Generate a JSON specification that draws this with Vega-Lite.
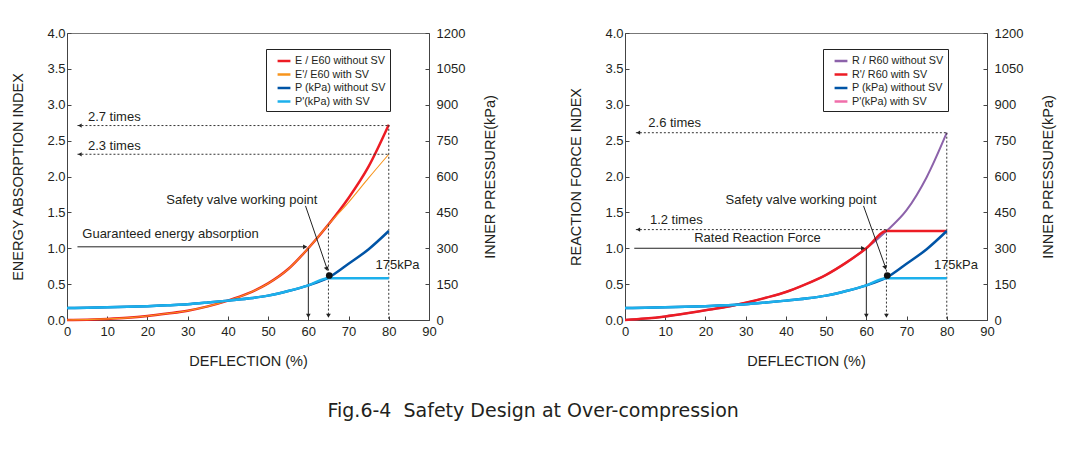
{
  "$schema": "https://vega.github.io/schema/vega-lite/v6.json",
  "background": "white",
  "padding": {"left": 10, "top": 26, "right": 10, "bottom": 10},
  "config": {
    "font": "Liberation Sans",
    "view": {"stroke": "#777", "strokeWidth": 1},
    "axis": {"grid": false, "labelFontSize": 13, "titleFontSize": 14.5, "titleFontWeight": "normal", "labelColor": "#231f20", "titleColor": "#231f20", "domainColor": "#444", "tickColor": "#444", "tickSize": -4, "labelPadding": 6, "labelOverlap": false, "labelFlush": false, "labelBound": false},
    "text": {"font": "Liberation Sans", "fontSize": 13, "color": "#231f20"}
  },
  "title": {"text": "Fig.6-4\u00a0 Safety Design at Over-compression", "orient": "bottom", "font": "DejaVu Sans", "fontSize": 19, "fontWeight": "normal", "color": "#231f20", "offset": 34, "anchor": "middle"},
  "spacing": 70,
  "resolve": {"scale": {"color": "independent"}, "legend": {"color": "independent"}},
  "datasets": {
    "eL": [
      {"x": 0, "v": 0, "s": "E / E60 without SV"}, {"x": 5, "v": 0.005, "s": "E / E60 without SV"}, {"x": 10, "v": 0.015, "s": "E / E60 without SV"}, {"x": 15, "v": 0.03, "s": "E / E60 without SV"}, {"x": 20, "v": 0.055, "s": "E / E60 without SV"}, {"x": 25, "v": 0.09, "s": "E / E60 without SV"}, {"x": 30, "v": 0.13, "s": "E / E60 without SV"}, {"x": 35, "v": 0.19, "s": "E / E60 without SV"}, {"x": 40, "v": 0.27, "s": "E / E60 without SV"}, {"x": 45, "v": 0.37, "s": "E / E60 without SV"}, {"x": 50, "v": 0.51, "s": "E / E60 without SV"}, {"x": 55, "v": 0.71, "s": "E / E60 without SV"}, {"x": 60, "v": 1.0, "s": "E / E60 without SV"}, {"x": 65, "v": 1.33, "s": "E / E60 without SV"}, {"x": 70, "v": 1.7, "s": "E / E60 without SV"}, {"x": 75, "v": 2.14, "s": "E / E60 without SV"}, {"x": 80, "v": 2.72, "s": "E / E60 without SV"},
      {"x": 0, "v": 0, "s": "E'/ E60 with SV"}, {"x": 5, "v": 0.005, "s": "E'/ E60 with SV"}, {"x": 10, "v": 0.015, "s": "E'/ E60 with SV"}, {"x": 15, "v": 0.03, "s": "E'/ E60 with SV"}, {"x": 20, "v": 0.055, "s": "E'/ E60 with SV"}, {"x": 25, "v": 0.09, "s": "E'/ E60 with SV"}, {"x": 30, "v": 0.13, "s": "E'/ E60 with SV"}, {"x": 35, "v": 0.19, "s": "E'/ E60 with SV"}, {"x": 40, "v": 0.27, "s": "E'/ E60 with SV"}, {"x": 45, "v": 0.37, "s": "E'/ E60 with SV"}, {"x": 50, "v": 0.51, "s": "E'/ E60 with SV"}, {"x": 55, "v": 0.71, "s": "E'/ E60 with SV"}, {"x": 60, "v": 1.0, "s": "E'/ E60 with SV"}, {"x": 65, "v": 1.33, "s": "E'/ E60 with SV"}, {"x": 70, "v": 1.64, "s": "E'/ E60 with SV"}, {"x": 75, "v": 1.98, "s": "E'/ E60 with SV"}, {"x": 80, "v": 2.31, "s": "E'/ E60 with SV"}
    ],
    "rR": [
      {"x": 0, "v": 0, "s": "R / R60 without SV"}, {"x": 5, "v": 0.02, "s": "R / R60 without SV"}, {"x": 10, "v": 0.05, "s": "R / R60 without SV"}, {"x": 15, "v": 0.09, "s": "R / R60 without SV"}, {"x": 20, "v": 0.135, "s": "R / R60 without SV"}, {"x": 25, "v": 0.18, "s": "R / R60 without SV"}, {"x": 30, "v": 0.24, "s": "R / R60 without SV"}, {"x": 35, "v": 0.31, "s": "R / R60 without SV"}, {"x": 40, "v": 0.39, "s": "R / R60 without SV"}, {"x": 45, "v": 0.5, "s": "R / R60 without SV"}, {"x": 50, "v": 0.63, "s": "R / R60 without SV"}, {"x": 55, "v": 0.8, "s": "R / R60 without SV"}, {"x": 60, "v": 1.0, "s": "R / R60 without SV"}, {"x": 65, "v": 1.24, "s": "R / R60 without SV"}, {"x": 70, "v": 1.53, "s": "R / R60 without SV"}, {"x": 75, "v": 1.99, "s": "R / R60 without SV"}, {"x": 80, "v": 2.61, "s": "R / R60 without SV"},
      {"x": 0, "v": 0, "s": "R'/ R60 with SV"}, {"x": 5, "v": 0.02, "s": "R'/ R60 with SV"}, {"x": 10, "v": 0.05, "s": "R'/ R60 with SV"}, {"x": 15, "v": 0.09, "s": "R'/ R60 with SV"}, {"x": 20, "v": 0.135, "s": "R'/ R60 with SV"}, {"x": 25, "v": 0.18, "s": "R'/ R60 with SV"}, {"x": 30, "v": 0.24, "s": "R'/ R60 with SV"}, {"x": 35, "v": 0.31, "s": "R'/ R60 with SV"}, {"x": 40, "v": 0.39, "s": "R'/ R60 with SV"}, {"x": 45, "v": 0.5, "s": "R'/ R60 with SV"}, {"x": 50, "v": 0.63, "s": "R'/ R60 with SV"}, {"x": 55, "v": 0.8, "s": "R'/ R60 with SV"}, {"x": 60, "v": 1.0, "s": "R'/ R60 with SV"}, {"x": 65, "v": 1.24, "s": "R'/ R60 with SV"}, {"x": 80, "v": 1.24, "s": "R'/ R60 with SV"}
    ],
    "pres": [
      {"x": 0, "p": 50, "s": "P (kPa) without SV"}, {"x": 5, "p": 51, "s": "P (kPa) without SV"}, {"x": 10, "p": 53, "s": "P (kPa) without SV"}, {"x": 15, "p": 55, "s": "P (kPa) without SV"}, {"x": 20, "p": 58, "s": "P (kPa) without SV"}, {"x": 25, "p": 62, "s": "P (kPa) without SV"}, {"x": 30, "p": 66, "s": "P (kPa) without SV"}, {"x": 35, "p": 73, "s": "P (kPa) without SV"}, {"x": 40, "p": 81, "s": "P (kPa) without SV"}, {"x": 45, "p": 90, "s": "P (kPa) without SV"}, {"x": 50, "p": 102, "s": "P (kPa) without SV"}, {"x": 55, "p": 121, "s": "P (kPa) without SV"}, {"x": 60, "p": 145, "s": "P (kPa) without SV"}, {"x": 65, "p": 177, "s": "P (kPa) without SV"}, {"x": 70, "p": 235, "s": "P (kPa) without SV"}, {"x": 75, "p": 296, "s": "P (kPa) without SV"}, {"x": 80, "p": 372, "s": "P (kPa) without SV"},
      {"x": 0, "p": 50, "s": "P'(kPa) with SV"}, {"x": 5, "p": 51, "s": "P'(kPa) with SV"}, {"x": 10, "p": 53, "s": "P'(kPa) with SV"}, {"x": 15, "p": 55, "s": "P'(kPa) with SV"}, {"x": 20, "p": 58, "s": "P'(kPa) with SV"}, {"x": 25, "p": 62, "s": "P'(kPa) with SV"}, {"x": 30, "p": 66, "s": "P'(kPa) with SV"}, {"x": 35, "p": 73, "s": "P'(kPa) with SV"}, {"x": 40, "p": 81, "s": "P'(kPa) with SV"}, {"x": 45, "p": 90, "s": "P'(kPa) with SV"}, {"x": 50, "p": 102, "s": "P'(kPa) with SV"}, {"x": 55, "p": 121, "s": "P'(kPa) with SV"}, {"x": 60, "p": 145, "s": "P'(kPa) with SV"}, {"x": 65, "p": 175, "s": "P'(kPa) with SV"}, {"x": 80, "p": 175, "s": "P'(kPa) with SV"}
    ],
    "dotL": [{"x": 65.2, "p": 186}],
    "dottedL": [{"x": 2.6, "v": 2.71, "x2": 80, "v2": 2.71}, {"x": 2.6, "v": 2.31, "x2": 80, "v2": 2.31}, {"x": 80, "v": 2.72, "x2": 80, "v2": 0}, {"x": 65, "v": 1.33, "x2": 65, "v2": 0.05}],
    "solidL": [{"x": 2.6, "v": 1.02, "x2": 59.5, "v2": 1.02}, {"x": 60, "v": 1.0, "x2": 60, "v2": 0.05}, {"x": 59.3, "v": 1.59, "x2": 64.5, "v2": 0.74}],
    "arrowLeftL": [{"x": 3.2, "v": 2.71}, {"x": 3.2, "v": 2.31}],
    "arrowRightL": [{"x": 59.2, "v": 1.02}],
    "arrowDownL": [{"x": 60, "v": 0.06}, {"x": 65, "v": 0.06}],
    "arrowDiagL": [{"x": 64.6, "v": 0.71}],
    "textL": [{"x": 5.2, "v": 2.83, "t": "2.7 times"}, {"x": 5.2, "v": 2.43, "t": "2.3 times"}, {"x": 24.7, "v": 1.67, "t": "Safety valve working point"}, {"x": 3.8, "v": 1.2, "t": "Guaranteed energy absorption"}, {"x": 76.7, "v": 0.76, "t": "175kPa"}],
    "dotR": [{"x": 65.2, "p": 186}],
    "dottedR": [{"x": 2.7, "v": 2.61, "x2": 80, "v2": 2.61}, {"x": 2.7, "v": 1.26, "x2": 65, "v2": 1.26}, {"x": 80, "v": 2.61, "x2": 80, "v2": 0}, {"x": 65, "v": 1.26, "x2": 65, "v2": 0.05}],
    "solidR": [{"x": 2.3, "v": 1.0, "x2": 59.5, "v2": 1.0}, {"x": 60, "v": 1.0, "x2": 60, "v2": 0.05}, {"x": 59.3, "v": 1.59, "x2": 64.6, "v2": 0.76}],
    "arrowLeftR": [{"x": 3.3, "v": 2.61}, {"x": 3.3, "v": 1.26}],
    "arrowRightR": [{"x": 59.2, "v": 1.0}],
    "arrowDownR": [{"x": 60, "v": 0.06}, {"x": 65, "v": 0.06}],
    "arrowDiagR": [{"x": 64.7, "v": 0.73}],
    "textR": [{"x": 5.8, "v": 2.74, "t": "2.6 times"}, {"x": 6.2, "v": 1.39, "t": "1.2 times"}, {"x": 25, "v": 1.67, "t": "Safety valve working point"}, {"x": 17.2, "v": 1.14, "t": "Rated Reaction Force"}, {"x": 76.8, "v": 0.76, "t": "175kPa"}]
  },
  "hconcat": [
    {
      "width": 362, "height": 287,
      "resolve": {"scale": {"y": "independent"}},
      "layer": [
        {
          "encoding": {
            "x": {"field": "x", "type": "quantitative", "scale": {"domain": [0, 90]}, "axis": {"values": [0,10,20,30,40,50,60,70,80,90], "labelOverlap": false, "title": "DEFLECTION (%)", "titlePadding": 16, "labelPadding": 9}},
            "y": {"field": "v", "type": "quantitative", "scale": {"domain": [0, 4]}, "axis": {"values": [0,0.5,1,1.5,2,2.5,3,3.5,4], "labelOverlap": false, "format": ".1f", "title": "ENERGY ABSORPTION INDEX", "titlePadding": 21}}
          },
          "layer": [
            {"data": {"name": "eL"}, "transform": [{"filter": "datum.s === 'E / E60 without SV'"}],
             "mark": {"type": "line", "interpolate": "monotone", "strokeWidth": 2.5},
             "encoding": {
               "color": {"field": "s", "type": "nominal", "scale": {"domain": ["E / E60 without SV", "E'/ E60 with SV", "P (kPa) without SV", "P'(kPa) with SV"], "range": ["#ed1c24", "#f7941d", "#0054a6", "#1cb0ec"]},
                 "legend": {"orient": "none", "legendX": 199, "legendY": 16, "title": null, "symbolType": "stroke", "symbolStrokeWidth": 2.5, "symbolSize": 165, "symbolOffset": 6, "strokeColor": "#222", "fillColor": "white", "padding": 4, "labelFontSize": 10.8, "labelColor": "#231f20", "rowPadding": 0.5, "labelOffset": 3, "cornerRadius": 0}}
             }},
            {"data": {"name": "eL"}, "transform": [{"filter": "datum.s === 'E\\'/ E60 with SV'"}],
             "mark": {"type": "line", "interpolate": "monotone", "strokeWidth": 1.1},
             "encoding": {"color": {"field": "s", "type": "nominal"}}},
            {"data": {"name": "dottedL"}, "mark": {"type": "rule", "strokeDash": [2, 2], "color": "#333", "strokeWidth": 1},
             "encoding": {"x2": {"field": "x2"}, "y2": {"field": "v2"}}},
            {"data": {"name": "solidL"}, "mark": {"type": "rule", "color": "#222", "strokeWidth": 1},
             "encoding": {"x2": {"field": "x2"}, "y2": {"field": "v2"}}},
            {"data": {"name": "arrowLeftL"}, "mark": {"type": "point", "shape": "triangle-left", "filled": true, "color": "#222", "size": 18, "opacity": 1}, "encoding": {}},
            {"data": {"name": "arrowRightL"}, "mark": {"type": "point", "shape": "triangle-right", "filled": true, "color": "#222", "size": 22, "opacity": 1}, "encoding": {}},
            {"data": {"name": "arrowDownL"}, "mark": {"type": "point", "shape": "triangle-down", "filled": true, "color": "#222", "size": 22, "opacity": 1}, "encoding": {}},
            {"data": {"name": "arrowDiagL"}, "mark": {"type": "point", "shape": "triangle-up", "angle": 162, "filled": true, "color": "#222", "size": 24, "opacity": 1}, "encoding": {}},
            {"data": {"name": "textL"}, "mark": {"type": "text", "align": "left", "baseline": "middle", "fontSize": 13},
             "encoding": {"text": {"field": "t"}}}
          ]
        },
        {
          "encoding": {
            "x": {"field": "x", "type": "quantitative", "scale": {"domain": [0, 90]}, "axis": {"values": [0,10,20,30,40,50,60,70,80,90], "labelOverlap": false, "title": "DEFLECTION (%)", "titlePadding": 16, "labelPadding": 9}},
            "y": {"field": "p", "type": "quantitative", "scale": {"domain": [0, 1200]}, "axis": {"orient": "right", "values": [0,150,300,450,600,750,900,1050,1200], "labelOverlap": false, "format": "d", "title": "INNER PRESSURE(kPa)", "titleAngle": 270, "titleBaseline": "top", "titlePadding": 19, "labelPadding": 11}}
          },
          "layer": [
            {"data": {"name": "pres"}, "transform": [{"filter": "datum.s === 'P (kPa) without SV'"}],
             "mark": {"type": "line", "interpolate": "monotone", "strokeWidth": 2.5},
             "encoding": {"color": {"field": "s", "type": "nominal"}}},
            {"data": {"name": "pres"}, "transform": [{"filter": "datum.s === 'P\\'(kPa) with SV'"}],
             "mark": {"type": "line", "interpolate": "monotone", "strokeWidth": 2.5},
             "encoding": {"color": {"field": "s", "type": "nominal"}}},
            {"data": {"name": "dotL"}, "mark": {"type": "point", "filled": true, "color": "#111", "size": 45, "opacity": 1}, "encoding": {}}
          ]
        }
      ]
    },
    {
      "width": 362, "height": 287,
      "resolve": {"scale": {"y": "independent"}},
      "layer": [
        {
          "encoding": {
            "x": {"field": "x", "type": "quantitative", "scale": {"domain": [0, 90]}, "axis": {"values": [0,10,20,30,40,50,60,70,80,90], "labelOverlap": false, "title": "DEFLECTION (%)", "titlePadding": 16, "labelPadding": 9}},
            "y": {"field": "v", "type": "quantitative", "scale": {"domain": [0, 4]}, "axis": {"values": [0,0.5,1,1.5,2,2.5,3,3.5,4], "labelOverlap": false, "format": ".1f", "title": "REACTION FORCE INDEX", "titlePadding": 21}}
          },
          "layer": [
            {"data": {"name": "rR"}, "transform": [{"filter": "datum.s === 'R / R60 without SV'"}],
             "mark": {"type": "line", "interpolate": "monotone", "strokeWidth": 2},
             "encoding": {
               "color": {"field": "s", "type": "nominal", "scale": {"domain": ["R / R60 without SV", "R'/ R60 with SV", "P (kPa) without SV", "P'(kPa) with SV"], "range": ["#8c62aa", "#ed1c24", "#0054a6", "#f06eaa"]},
                 "legend": {"orient": "none", "legendX": 198, "legendY": 16, "title": null, "symbolType": "stroke", "symbolStrokeWidth": 2.5, "symbolSize": 165, "symbolOffset": 6, "strokeColor": "#222", "fillColor": "white", "padding": 4, "labelFontSize": 10.8, "labelColor": "#231f20", "rowPadding": 0.5, "labelOffset": 3, "cornerRadius": 0}}
             }},
            {"data": {"name": "rR"}, "transform": [{"filter": "datum.s === 'R\\'/ R60 with SV'"}],
             "mark": {"type": "line", "interpolate": "monotone", "strokeWidth": 2.5},
             "encoding": {"color": {"field": "s", "type": "nominal"}}},
            {"data": {"name": "dottedR"}, "mark": {"type": "rule", "strokeDash": [2, 2], "color": "#333", "strokeWidth": 1},
             "encoding": {"x2": {"field": "x2"}, "y2": {"field": "v2"}}},
            {"data": {"name": "solidR"}, "mark": {"type": "rule", "color": "#222", "strokeWidth": 1},
             "encoding": {"x2": {"field": "x2"}, "y2": {"field": "v2"}}},
            {"data": {"name": "arrowLeftR"}, "mark": {"type": "point", "shape": "triangle-left", "filled": true, "color": "#222", "size": 18, "opacity": 1}, "encoding": {}},
            {"data": {"name": "arrowRightR"}, "mark": {"type": "point", "shape": "triangle-right", "filled": true, "color": "#222", "size": 22, "opacity": 1}, "encoding": {}},
            {"data": {"name": "arrowDownR"}, "mark": {"type": "point", "shape": "triangle-down", "filled": true, "color": "#222", "size": 22, "opacity": 1}, "encoding": {}},
            {"data": {"name": "arrowDiagR"}, "mark": {"type": "point", "shape": "triangle-up", "angle": 162, "filled": true, "color": "#222", "size": 24, "opacity": 1}, "encoding": {}},
            {"data": {"name": "textR"}, "mark": {"type": "text", "align": "left", "baseline": "middle", "fontSize": 13},
             "encoding": {"text": {"field": "t"}}}
          ]
        },
        {
          "encoding": {
            "x": {"field": "x", "type": "quantitative", "scale": {"domain": [0, 90]}, "axis": {"values": [0,10,20,30,40,50,60,70,80,90], "labelOverlap": false, "title": "DEFLECTION (%)", "titlePadding": 16, "labelPadding": 9}},
            "y": {"field": "p", "type": "quantitative", "scale": {"domain": [0, 1200]}, "axis": {"orient": "right", "values": [0,150,300,450,600,750,900,1050,1200], "labelOverlap": false, "format": "d", "title": "INNER PRESSURE(kPa)", "titleAngle": 270, "titleBaseline": "top", "titlePadding": 19, "labelPadding": 11}}
          },
          "layer": [
            {"data": {"name": "pres"}, "transform": [{"filter": "datum.s === 'P (kPa) without SV'"}],
             "mark": {"type": "line", "interpolate": "monotone", "strokeWidth": 2.5},
             "encoding": {"color": {"field": "s", "type": "nominal"}}},
            {"data": {"name": "pres"}, "transform": [{"filter": "datum.s === 'P\\'(kPa) with SV'"}],
             "mark": {"type": "line", "interpolate": "monotone", "strokeWidth": 2.5, "color": "#1cb0ec"}, "encoding": {}},
            {"data": {"name": "dotR"}, "mark": {"type": "point", "filled": true, "color": "#111", "size": 45, "opacity": 1}, "encoding": {}}
          ]
        }
      ]
    }
  ]
}
